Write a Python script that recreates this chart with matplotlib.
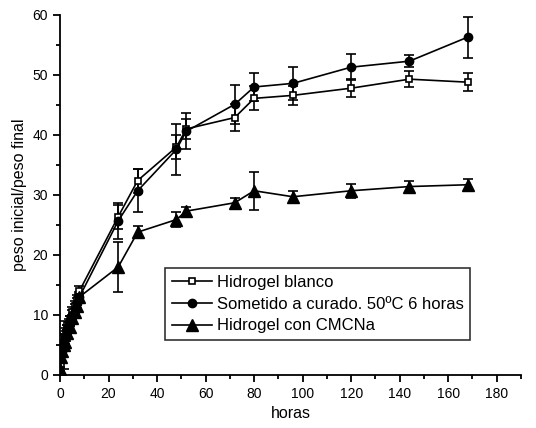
import matplotlib
matplotlib.use("Agg")
import matplotlib.pyplot as plt
import numpy as np

plt.rcParams['font.family'] = ['Liberation Sans', 'DejaVu Sans']

# horas de medida
t_blanco = [0.5, 1, 1.5, 2, 2.5, 3, 3.5, 4, 5, 6, 7, 8, 24, 32, 48, 52, 72, 80, 96, 120, 144, 168]
blanco = [4.0, 4.5, 5.5, 6.0, 7.0, 7.5, 8.5, 9.0, 10.5, 11.5, 12.5, 14.0,
          26.4, 32.4, 38.0, 41.0, 42.9, 46.1, 46.6, 47.8, 49.3, 48.8]
err_blanco = [0.5, 0.5, 1.0, 0.8, 0.8, 0.8, 0.8, 0.8, 0.8, 0.8, 0.8, 0.8,
              2.0, 2.0, 2.0, 1.6, 2.2, 2.0, 1.6, 1.5, 1.3, 1.5]

t_curado = [0.5, 1, 1.5, 2, 2.5, 3, 3.5, 4, 5, 6, 7, 8, 24, 32, 48, 52, 72, 80, 96, 120, 144, 168]
curado = [3.5, 4.0, 5.0, 6.0, 6.5, 7.5, 8.0, 9.0, 10.0, 11.0, 12.0, 13.0,
          25.7, 30.7, 37.6, 40.6, 45.1, 48.0, 48.6, 51.3, 52.3, 56.3]
err_curado = [0.5, 1.0, 4.0, 0.8, 0.8, 0.8, 0.8, 0.8, 0.8, 0.8, 0.8, 0.8,
              3.0, 3.6, 4.2, 3.0, 3.3, 2.4, 2.8, 2.2, 1.0, 3.4]

t_cmc = [0, 0.5, 1, 1.5, 2, 3, 4, 5, 6, 7, 8, 24, 32, 48, 52, 72, 80, 96, 120, 144, 168]
cmc = [1.0, 3.0, 4.0, 5.0, 5.5, 7.0, 8.0, 9.5, 10.5, 11.5, 13.0,
       18.0, 23.8, 25.9, 27.3, 28.7, 30.7, 29.7, 30.7, 31.4, 31.7]
err_cmc = [0.3, 0.5, 0.5, 0.5, 0.5, 0.5, 0.5, 0.5, 0.5, 0.5, 0.5,
           4.2, 1.0, 1.3, 0.7, 0.8, 3.2, 1.0, 1.2, 1.0, 0.9]

fig = plt.figure(figsize=(5.36, 4.28), dpi=100)
ax = fig.add_axes([0.112, 0.124, 0.86, 0.841])

estilo = dict(color='black', lw=1.2, elinewidth=1.2, capsize=3.6, capthick=1.2)
e1 = ax.errorbar(t_blanco, blanco, yerr=err_blanco, marker='s', ms=4.5, mfc='white',
                 mec='black', mew=1.2, label='Hidrogel blanco', **estilo)
e2 = ax.errorbar(t_curado, curado, yerr=err_curado, marker='o', ms=6, mfc='black',
                 mec='black', label='Sometido a curado. 50ºC 6 horas', **estilo)
e3 = ax.errorbar(t_cmc, cmc, yerr=err_cmc, marker='^', ms=8, mfc='black',
                 mec='black', label='Hidrogel con CMCNa', **estilo)

ax.set_xlim(0, 190)
ax.set_ylim(0, 60)
ax.set_xticks(np.arange(0, 181, 20))
ax.set_xticks(np.arange(10, 191, 10), minor=True)
ax.set_yticks(np.arange(0, 61, 10))
ax.set_yticks(np.arange(5, 60, 10), minor=True)
ax.spines['top'].set_visible(False)
ax.spines['right'].set_visible(False)
for s in ['left', 'bottom']:
    ax.spines[s].set_linewidth(1.3)
ax.tick_params(which='major', direction='out', length=5, width=1.3, labelsize=10)
ax.tick_params(which='minor', direction='out', length=3, width=1.3)

ax.set_xlabel('horas', fontsize=11.5)
ax.set_ylabel('peso inicial/peso final', fontsize=11.5)

# leyenda solo con linea + marcador, sin barras de error
handles = [e1.lines[0], e2.lines[0], e3.lines[0]]
labels = ['Hidrogel blanco', 'Sometido a curado. 50ºC 6 horas', 'Hidrogel con CMCNa']
leg = ax.legend(handles, labels, loc='lower left', bbox_to_anchor=(0.228, 0.097), fontsize=12,
                frameon=True, fancybox=False, edgecolor='black', handlelength=2.4,
                handletextpad=0.3, borderpad=0.4, labelspacing=0.4, borderaxespad=0)
leg.get_frame().set_linewidth(1.2)

fig.savefig('out.png', dpi=100)
